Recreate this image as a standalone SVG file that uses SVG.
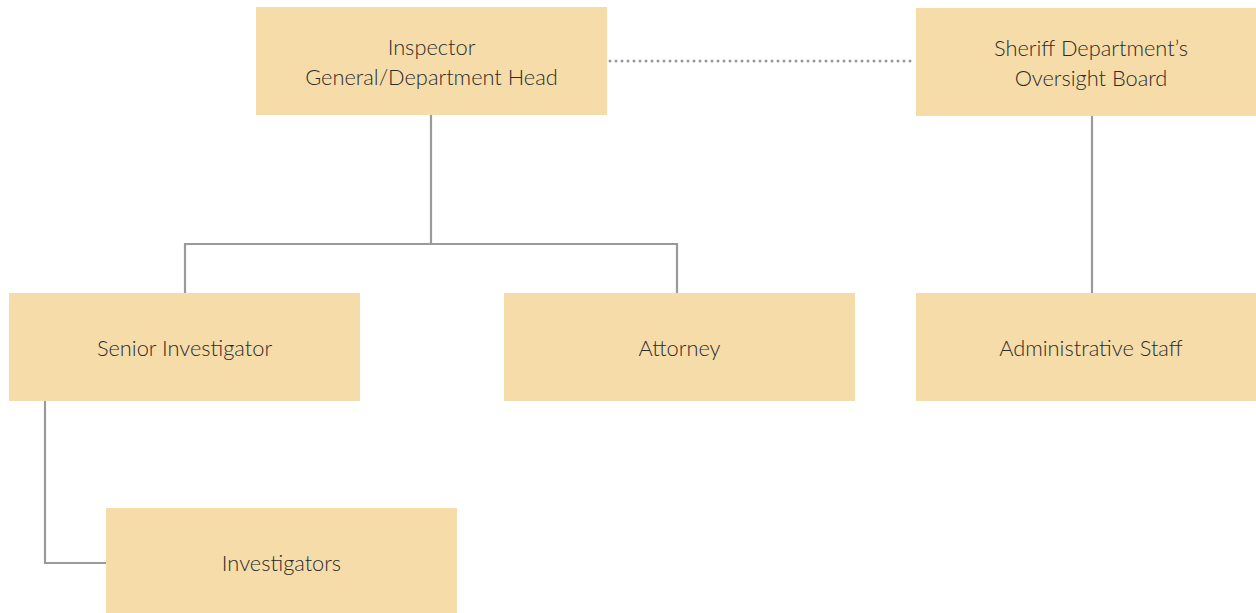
<svg xmlns="http://www.w3.org/2000/svg" width="1256" height="613" viewBox="0 0 1256 613">
<style>
.box{fill:#F6DCA8;}
.lbl{font-family:Lato,"Open Sans",sans-serif;font-weight:300;font-size:21.8px;fill:#2b2b2b;text-anchor:middle;}
.ln{fill:none;stroke:#999a9c;stroke-width:2.2;}
.dot{fill:none;stroke:#999a9c;stroke-width:3;stroke-linecap:round;stroke-dasharray:0 6;}
</style>
<rect width="1256" height="613" fill="#fff"/>
<g id="connectors">
<path class="ln" d="M431 115 V244 M185 293 V244 H677 V293"/>
<path class="ln" d="M1092 116 V293"/>
<path class="ln" d="M45 401 V563 H106"/>
<path class="dot" d="M610 61 H914"/>
</g>
<g id="inspector">
<rect class="box" x="256" y="7" width="351" height="108"/>
<text class="lbl" x="431.5" y="55">Inspector</text>
<text class="lbl" x="431.5" y="85">General/Department Head</text>
</g>
<g id="sheriff">
<rect class="box" x="916" y="8" width="340" height="108"/>
<text class="lbl" x="1091" y="56">Sheriff Department’s</text>
<text class="lbl" x="1091" y="86">Oversight Board</text>
</g>
<g id="senior">
<rect class="box" x="9" y="293" width="351" height="108"/>
<text class="lbl" x="184.5" y="356">Senior Investigator</text>
</g>
<g id="attorney">
<rect class="box" x="504" y="293" width="351" height="108"/>
<text class="lbl" x="679.5" y="356">Attorney</text>
</g>
<g id="admin">
<rect class="box" x="916" y="293" width="340" height="108"/>
<text class="lbl" x="1091" y="356">Administrative Staff</text>
</g>
<g id="investigators">
<rect class="box" x="106" y="508" width="351" height="105"/>
<text class="lbl" x="281.5" y="571">Investigators</text>
</g>
</svg>
